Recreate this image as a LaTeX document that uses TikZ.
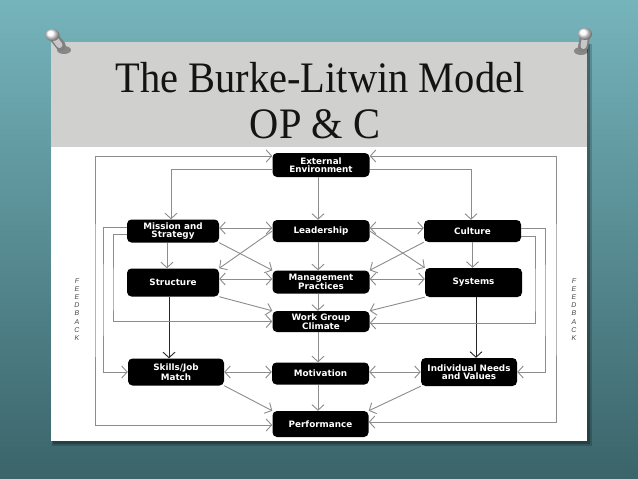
\documentclass[tikz,border=0pt]{standalone}
\usepackage{fontspec}
\setmainfont{Liberation Serif}
\newfontfamily\boxfont{DejaVu Sans}
\newfontfamily\fbfont{Liberation Sans}
\usetikzlibrary{arrows.meta,calc}
\definecolor{bgtop}{RGB}{118,180,188}
\definecolor{bgbot}{RGB}{58,100,106}
\definecolor{band}{RGB}{208,208,206}
\definecolor{lncol}{RGB}{140,140,140}
\begin{document}
\begin{tikzpicture}[x=1pt,y=-1pt,
  box/.style={fill=black, rounded corners=4.5pt, text=white,
    font=\boxfont\bfseries\fontsize{8.8}{8.4}\selectfont, align=center,
    inner sep=0pt, minimum width=97pt, minimum height=22pt},
  arr/.style={draw=lncol, line width=0.9pt, -{Straight Barb[length=5.5pt,width=12pt]}},
  dbl/.style={draw=lncol, line width=0.9pt, {Straight Barb[length=5.5pt,width=12pt]}-{Straight Barb[length=5.5pt,width=12pt]}},
  arrk/.style={draw=black!85, line width=0.9pt, -{Straight Barb[length=5.5pt,width=12pt]}},
  fb/.style={font=\fbfont\itshape\fontsize{7}{8.1}\selectfont, align=center, text=black!72, inner sep=0pt},
  ttl/.style={font=\fontsize{43.5}{50}\selectfont, text=black!92, xscale=0.93, anchor=base, inner sep=0pt}
]
\useasboundingbox (0,0) rectangle (638,479);
% background
\shade[top color=bgtop, bottom color=bgbot] (0,0) rectangle (638,479);
% card shadow and card
\fill[black, opacity=0.18] (52,44) rectangle (592,446);
\fill[black, opacity=0.25] (53,44) rectangle (590,444);
\fill[white] (51,42) rectangle (587,441);
\fill[band] (51,42) rectangle (587,147);
% title
\node[ttl] (t1) at (320,92) {The Burke-Litwin Model};
\node[ttl] (t2) at (315,138) {OP \& C};
% pins
\fill[black, opacity=0.35] (64,50) ellipse (7 and 4);
\draw[line width=10pt, line cap=round, black!50] (54,37) -- (61,46);
\draw[line width=6pt, line cap=round, black!22] (53.5,37) -- (59.5,45);
\shade[ball color=white] (52.5,35) ellipse (7 and 6);
\fill[black, opacity=0.35] (581,51) ellipse (7 and 4);
\draw[line width=10pt, line cap=round, black!50] (585,37) -- (583,47);
\draw[line width=6pt, line cap=round, black!22] (585,37) -- (583.5,46);
\shade[ball color=white] (585,34) ellipse (7 and 6);
% boxes
\node[box, minimum height=24pt] (ext) at (321,165) {External\\Environment};
\node[box, minimum width=92pt, minimum height=23pt] (mis) at (173,231) {Mission and\\Strategy};
\node[box] (lead) at (321,231) {Leadership};
\node[box] (cult) at (472.5,231) {Culture};
\node[box, minimum width=92pt, minimum height=28pt] (str) at (173,282.5) {Structure};
\node[box, minimum height=23pt] (mgmt) at (321,282) {Management\\Practices};
\node[box, minimum height=29pt] (sys) at (473.5,282.5) {Systems};
\node[box, minimum height=21pt] (wgc) at (321,321.5) {Work Group\\Climate};
\node[box, minimum width=96pt, minimum height=27pt] (skl) at (176,372) {Skills/Job\\Match};
\node[box] (mot) at (320.5,373.5) {Motivation};
\node[box, minimum width=96pt, minimum height=28pt] (ind) at (469,372) {Individual Needs\\and Values};
\node[box, minimum width=96pt, minimum height=26pt] (perf) at (320.5,424) {Performance};
% feedback labels
\node[fb] (fbtL) at (77,309.5) {F\\E\\E\\D\\B\\A\\C\\K};
\node[fb] (fbtR) at (574,309.5) {F\\E\\E\\D\\B\\A\\C\\K};
% helper coordinates
\coordinate (fbL) at (95,290);
\coordinate (fbR) at (556,290);
\coordinate (mL1) at (103,300);
\coordinate (mL2) at (113,300);
\coordinate (cR1) at (545,300);
\coordinate (cR2) at (535,300);
% central column
\draw[arr] ($(ext.south)+(-3,0)$) -- ($(lead.north)+(-3,0)$);
\draw[arr] ($(lead.south)+(-3,0)$) -- ($(mgmt.north)+(-3,0)$);
\draw[arr] ($(mgmt.south)+(-3,0)$) -- ($(wgc.north)+(-3,0)$);
\draw[arr] ($(wgc.south)+(-3,0)$) -- ($(mot.north)+(-2.5,0)$);
\draw[arr] ($(mot.south)+(-2.5,0)$) -- ($(perf.north)+(-2.5,0)$);
% external environment branches
\draw[arr] ($(ext.west)+(0,4)$) -| ($(mis.north)+(-2,0)$);
\draw[arr] ($(ext.east)+(0,4)$) -| ($(cult.north)+(-1.5,0)$);
% row 2 and 3 horizontals
\draw[dbl] ($(mis.east)+(0,-3)$) -- ($(lead.west)+(0,-3)$);
\draw[dbl] ($(lead.east)+(0,-3)$) -- ($(cult.west)+(0,-3)$);
\draw[dbl] ($(str.east)+(0,-3.5)$) -- ($(mgmt.west)+(0,-3)$);
\draw[dbl] ($(mgmt.east)+(0,-3)$) -- ($(sys.west)+(0,-3.5)$);
% verticals in side columns
\draw[arr] ($(mis.south)+(-6,0)$) -- ($(str.north)+(-6,0)$);
\draw[arr] (cult.south) -- ($(sys.north)+(-1,0)$);
\coordinate (sA) at ($(str.south)+(-4,0)$);
\draw[arrk] (sA) -- (sA |- skl.north);
\coordinate (sB) at ($(sys.south)+(2.5,0)$);
\draw[arrk] (sB) -- (sB |- ind.north);
% diagonals
\draw[arr] (mis.south east) -- (mgmt.north west);
\draw[arr] (lead.west) -- (str.north east);
\draw[arr] (lead.east) -- (sys.north west);
\draw[arr] (cult.south west) -- (mgmt.north east);
\draw[arr] (str.south east) -- (wgc.north west);
\draw[arr] (sys.south west) -- (wgc.north east);
\draw[arr] (skl.south east) -- (perf.north west);
\draw[arr] (ind.south west) -- (perf.north east);
% row 5 horizontals
\draw[dbl] (skl.east) -- ($(mot.west)+(0,-1.5)$);
\draw[dbl] ($(mot.east)+(0,-1.5)$) -- (ind.west);
% feedback loops
\draw[dbl] ($(ext.west)+(0,-9)$) -| (fbL) |- ($(perf.west)+(0,1)$);
\draw[dbl] ($(ext.east)+(0,-9)$) -| (fbR) |- ($(perf.east)+(0,-2)$);
\draw[arr] ($(mis.west)+(0,-4)$) -| (mL1) |- (skl.west);
\draw[arr] ($(mis.west)+(0,3)$) -| (mL2) |- (wgc.west);
\draw[arr] ($(cult.east)+(0,-3)$) -| (cR1) |- (ind.east);
\draw[arr] ($(cult.east)+(0,5)$) -| (cR2) |- ($(wgc.east)+(0,1.5)$);
\end{tikzpicture}
\end{document}
